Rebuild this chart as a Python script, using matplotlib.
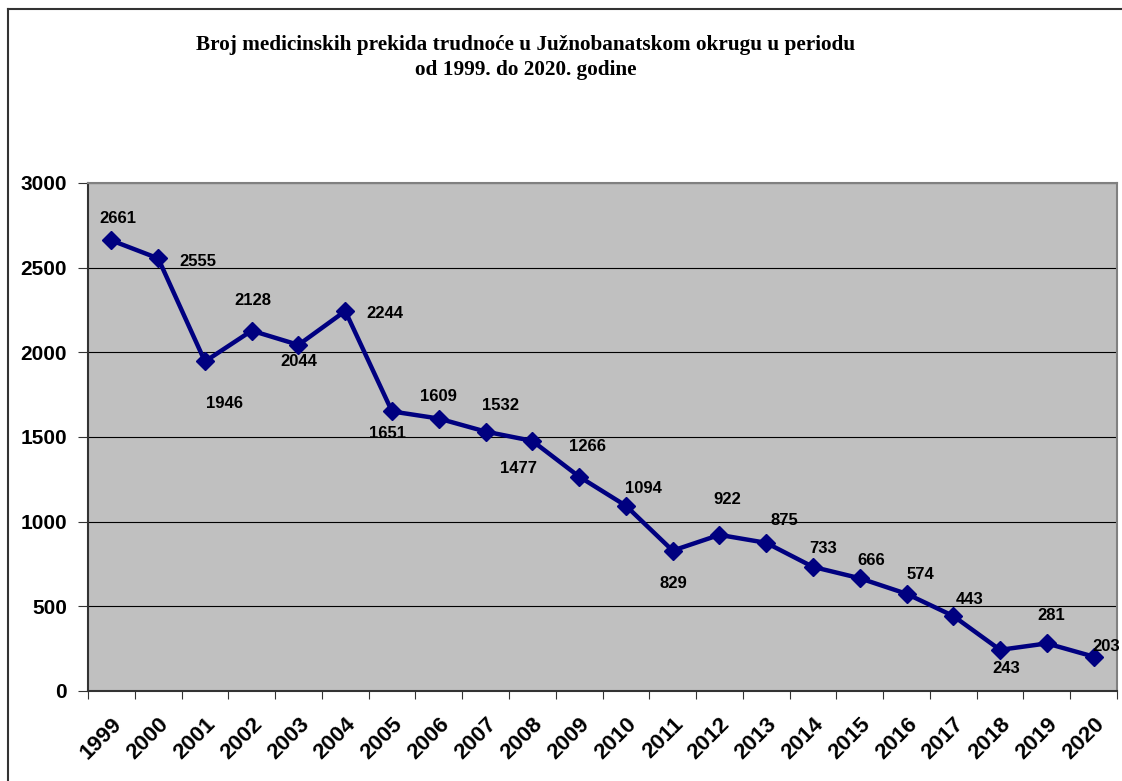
import matplotlib
matplotlib.use("Agg")
import matplotlib.pyplot as plt
from matplotlib.lines import Line2D

years = ["1999", "2000", "2001", "2002", "2003", "2004", "2005", "2006", "2007", "2008", "2009",
         "2010", "2011", "2012", "2013", "2014", "2015", "2016", "2017", "2018", "2019", "2020"]
values = [2661, 2555, 1946, 2128, 2044, 2244, 1651, 1609, 1532, 1477, 1266,
          1094, 829, 922, 875, 733, 666, 574, 443, 243, 281, 203]
# label offsets in pixels (dx, dy) relative to each point
label_offsets = [(6, 22), (40, -3), (20, -42), (1, 30), (0, -17), (40, -2), (-5, -22), (0, 22),
                 (15, 26), (-14, -28), (8, 30), (18, 17), (1, -33), (8, 35), (18, 22), (10, 18),
                 (11, 18), (14, 19), (16, 16), (6, -19), (4, 28), (13, 10)]

W, H = 1122, 781
fig = plt.figure(figsize=(W / 100, H / 100), dpi=100)
fig.patch.set_facecolor("white")

# outer frame
fig.add_artist(Line2D([8 / W, 8 / W], [0, 1 - 9 / H], transform=fig.transFigure, color="#333333", lw=1.5))
fig.add_artist(Line2D([8 / W, 1], [1 - 9 / H, 1 - 9 / H], transform=fig.transFigure, color="#333333", lw=1.5))

left, right, top, bottom = 88, 1117, 183, 691
ax = fig.add_axes([left / W, 1 - bottom / H, (right - left) / W, (bottom - top) / H])
ax.set_facecolor("#C0C0C0")

x = list(range(len(years)))
ax.plot(x, values, color="#000080", lw=3.2, marker="D", markersize=9, markerfacecolor="#000080",
        markeredgecolor="#000080", zorder=3, clip_on=False)

for xi, v, (dx, dy) in zip(x, values, label_offsets):
    ax.annotate(str(v), (xi, v), xytext=(dx, dy), textcoords="offset pixels", ha="center", va="center",
                fontsize=12, fontweight="bold", family="Liberation Sans", color="black", zorder=4,
                annotation_clip=False)

ax.set_xlim(-0.5, len(years) - 0.5)
ax.set_ylim(0, 3000)
ax.set_yticks([0, 500, 1000, 1500, 2000, 2500, 3000])
ax.set_yticklabels(["0", "500", "1000", "1500", "2000", "2500", "3000"], fontsize=15, fontweight="bold",
                   family="Liberation Sans")
ax.yaxis.grid(True, color="black", lw=0.8)
ax.set_axisbelow(True)

ax.set_xticks([i - 0.5 for i in range(len(years) + 1)])
ax.set_xticklabels([])
ax.set_xticks(x, minor=True)
ax.set_xticklabels(years, minor=True, rotation=45, ha="right", va="top", rotation_mode="anchor",
                   fontsize=16, fontweight="bold", family="Liberation Sans")
ax.tick_params(axis="x", which="minor", length=0, pad=16)
ax.tick_params(axis="x", which="major", length=6, color="#333333", direction="out")
ax.tick_params(axis="y", length=7, color="#333333", direction="out", pad=8)

for s in ["top", "right"]:
    ax.spines[s].set_color("#808080")
    ax.spines[s].set_linewidth(1.5)
for s in ["left", "bottom"]:
    ax.spines[s].set_color("#333333")
    ax.spines[s].set_linewidth(1.5)

fig.text(526 / W, 1 - 45 / H, "Broj medicinskih prekida trudnoće u Južnobanatskom okrugu u periodu",
         ha="center", va="center", fontsize=15.3, fontweight="bold", family="Liberation Serif")
fig.text(526 / W, 1 - 70 / H, "od 1999. do 2020. godine",
         ha="center", va="center", fontsize=15.3, fontweight="bold", family="Liberation Serif")

fig.savefig("out.png", dpi=100)
